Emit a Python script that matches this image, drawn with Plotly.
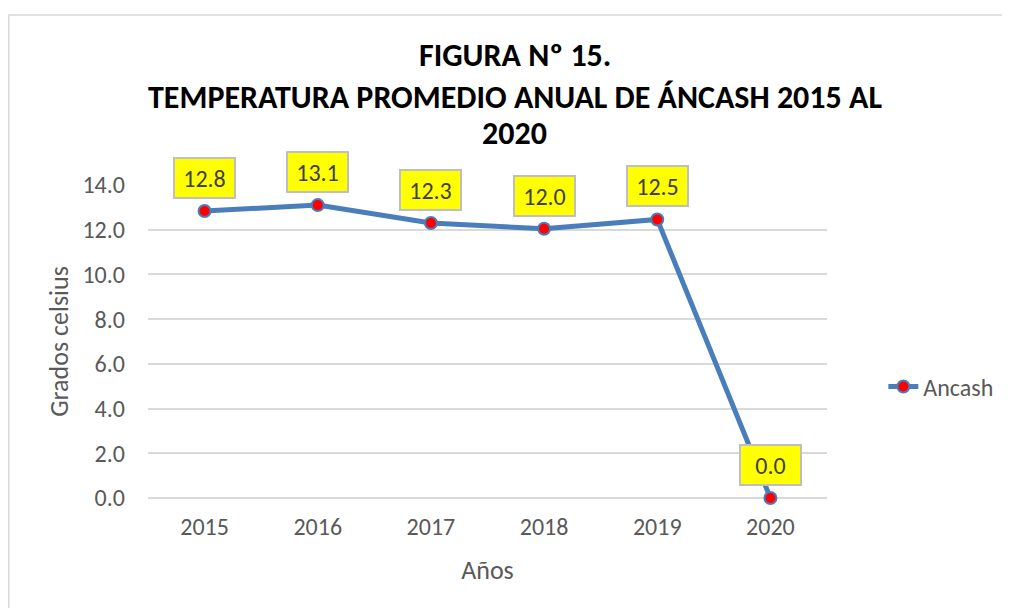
import plotly.graph_objects as go

years = [2015, 2016, 2017, 2018, 2019, 2020]
year_labels = ["2015", "2016", "2017", "2018", "2019", "2020"]
temps = [12.84, 13.1, 12.3, 12.04, 12.46, 0.0]
labels = ["12.8", "13.1", "12.3", "12.0", "12.5", "0.0"]
y_ticks = [0, 2, 4, 6, 8, 10, 12, 14]
y_ticktext = ["0.0", "2.0", "4.0", "6.0", "8.0", "10.0", "12.0", "14.0"]
title_lines = ["FIGURA Nº 15.", "TEMPERATURA PROMEDIO ANUAL DE ÁNCASH 2015 AL", "2020"]

FONT = "Carlito, Calibri, Lato, sans-serif"
GREY = "#595959"

fig = go.Figure()
fig.add_trace(go.Scatter(
    x=years, y=temps, mode="lines+markers", name="Ancash",
    line=dict(color="#4A7EBB", width=5),
    marker=dict(color="#FF0000", size=12, line=dict(color="#4A7EBB", width=2)),
    cliponaxis=False,
))

for x, y, t in zip(years, temps, labels):
    fig.add_annotation(
        x=x, y=y, xref="x", yref="y", text=t, showarrow=False, yshift=33,
        font=dict(family=FONT, size=24, color="#404040"),
        bgcolor="#FFFF00", bordercolor="#BFBFBF", borderwidth=2, borderpad=4,
        width=51, height=30,
    )

for line, py in zip(title_lines, [1.415, 1.281, 1.166]):
    fig.add_annotation(
        x=0.54, y=py, xref="paper", yref="paper", text="<b>%s</b>" % line,
        showarrow=False, xanchor="center", yanchor="middle",
        font=dict(family=FONT, size=32, color="black"),
    )

fig.update_layout(
    width=1002, height=600,
    margin=dict(l=140, r=179, t=177, b=110),
    paper_bgcolor="white", plot_bgcolor="white",
    font=dict(family=FONT, color=GREY),
    showlegend=True,
    legend=dict(x=1.083, y=0.355, xanchor="left", yanchor="middle",
                font=dict(family=FONT, size=24, color=GREY),
                bgcolor="rgba(0,0,0,0)"),
    xaxis=dict(
        range=[2014.5, 2020.5], tickvals=years, ticktext=year_labels,
        showgrid=False, showline=False, zeroline=False, ticks="",
        ticklabelstandoff=12,
        tickfont=dict(family=FONT, size=24, color=GREY),
        title=dict(text="Años", font=dict(family=FONT, size=26, color=GREY), standoff=20),
    ),
    yaxis=dict(
        range=[0, 14], tickvals=y_ticks, ticktext=y_ticktext,
        showgrid=True, gridcolor="#D9D9D9", gridwidth=1.5,
        zeroline=True, zerolinecolor="#D9D9D9", zerolinewidth=1.5,
        showline=False, ticks="", ticklabelstandoff=22,
        tickfont=dict(family=FONT, size=24, color=GREY),
        title=dict(text="Grados celsius", font=dict(family=FONT, size=26, color=GREY), standoff=6),
    ),
    shapes=[dict(type="rect", xref="paper", yref="paper",
                 x0=-0.205, x1=1.4, y0=-0.5, y1=1.543,
                 line=dict(color="#D9D9D9", width=1.5), fillcolor="rgba(0,0,0,0)",
                 layer="below")],
)

fig.write_html("out.html")
